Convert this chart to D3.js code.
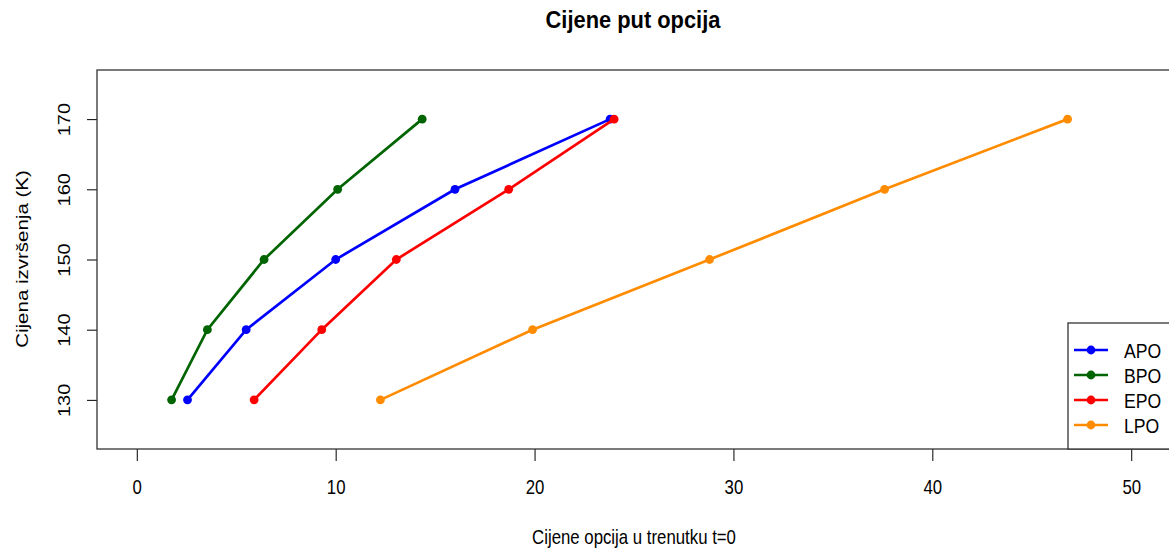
<!DOCTYPE html>
<html>
<head>
<meta charset="utf-8">
<script src="https://cdn.jsdelivr.net/npm/d3@7"></script>
<style>
  body { margin: 0; background: #fff; }
  text { font-family: "Liberation Sans", Arial, sans-serif; fill: #000; }
</style>
</head>
<body>
<svg id="chart" width="1169" height="552"></svg>
<script>
// --- data ---
const strikes = [130, 140, 150, 160, 170];
const seriesNames = ['APO', 'BPO', 'EPO', 'LPO'];
const apo = [2.55, 5.5, 10.0, 16.0, 23.8];
const bpo = [1.75, 3.55, 6.4, 10.1, 14.35];
const epo = [5.9, 9.3, 13.05, 18.7, 24.0];
const lpo = [12.25, 19.9, 28.8, 37.6, 46.8];
const xTicks = [0, 10, 20, 30, 40, 50];
const yTicks = [130, 140, 150, 160, 170];
const colors = ['#0000ff', '#006400', '#ff0000', '#ff8c00'];

const seriesValues = [apo, bpo, epo, lpo];
const series = seriesNames.map((name, i) => ({
    name,
    color: colors[i],
    points: strikes.map((k, j) => ({ k, price: seriesValues[i][j] }))
}));

const svg = d3.select('#chart');
const plot = { left: 97, right: 1171, top: 70, bottom: 449 };
const squeeze = 0.84; // the reference text is narrow, as if stretched tall

const x = d3.scaleLinear().domain([-2, 52]).range([plot.left, plot.right]);
const y = d3.scaleLinear().domain([123, 177]).range([plot.bottom, plot.top]);

// title
svg.append('text')
    .attr('transform', 'translate(633,28) scale(0.93,1)')
    .attr('text-anchor', 'middle')
    .style('font-size', '23.5px').style('font-weight', 'bold')
    .text('Cijene put opcija');

// axes
const xAxis = svg.append('g')
    .attr('transform', `translate(0,${plot.bottom})`)
    .call(d3.axisBottom(x).tickValues(xTicks).tickSize(12));
const yAxis = svg.append('g')
    .attr('transform', `translate(${plot.left},0)`)
    .call(d3.axisLeft(y).tickValues(yTicks).tickSize(10));

[xAxis, yAxis].forEach(g => {
    g.select('.domain').remove();
    g.selectAll('line').attr('stroke', '#000').attr('stroke-width', 1);
    g.selectAll('text').style('font-size', '20px').attr('fill', '#000');
});

xAxis.selectAll('.tick text')
    .attr('x', null).attr('y', null).attr('dy', null)
    .attr('text-anchor', 'middle')
    .attr('transform', `translate(0,45) scale(${squeeze},1)`);

yAxis.selectAll('.tick text')
    .attr('x', null).attr('y', null).attr('dy', null)
    .attr('text-anchor', 'middle')
    .attr('transform', `translate(-27,0) rotate(-90) scale(1,${squeeze})`);

// axis titles
svg.append('text')
    .attr('transform', `translate(634,544) scale(${squeeze},1)`)
    .attr('text-anchor', 'middle')
    .style('font-size', '20px')
    .text('Cijene opcija u trenutku t=0');

svg.append('text')
    .attr('transform', `translate(28,259) rotate(-90) scale(1,${squeeze})`)
    .attr('text-anchor', 'middle')
    .style('font-size', '20.5px')
    .text('Cijena izvršenja (K)');

// lines and points
const line = d3.line().x(d => x(d.price)).y(d => y(d.k));

series.forEach(s => {
    svg.append('path')
        .datum(s.points)
        .attr('fill', 'none')
        .attr('stroke', s.color)
        .attr('stroke-width', 2.7)
        .attr('d', line);
    svg.selectAll(null)
        .data(s.points)
        .enter().append('circle')
        .attr('cx', d => x(d.price))
        .attr('cy', d => y(d.k))
        .attr('r', 4.4)
        .attr('fill', s.color);
});

// plot box
svg.append('rect')
    .attr('x', plot.left).attr('y', plot.top)
    .attr('width', plot.right - plot.left)
    .attr('height', plot.bottom - plot.top)
    .attr('fill', 'none')
    .attr('stroke', '#333')
    .attr('stroke-width', 1.3);

// legend
const legend = svg.append('g');
legend.append('rect')
    .attr('x', 1068).attr('y', 323)
    .attr('width', 120).attr('height', 126)
    .attr('fill', '#fff')
    .attr('stroke', '#333')
    .attr('stroke-width', 1.3);

series.forEach((s, i) => {
    const ly = 350 + i * 25;
    legend.append('line')
        .attr('x1', 1074).attr('x2', 1108)
        .attr('y1', ly).attr('y2', ly)
        .attr('stroke', s.color).attr('stroke-width', 2.7);
    legend.append('circle')
        .attr('cx', 1091).attr('cy', ly).attr('r', 4.4)
        .attr('fill', s.color);
    legend.append('text')
        .attr('transform', `translate(1124,${ly + 8}) scale(${squeeze},1)`)
        .style('font-size', '21px')
        .text(s.name);
});
</script>
</body>
</html>
